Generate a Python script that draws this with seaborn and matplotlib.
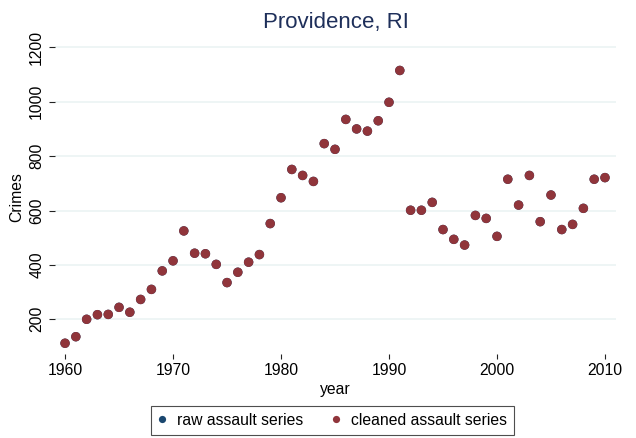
import pandas as pd
import seaborn as sns
import matplotlib.pyplot as plt

# Data
years = list(range(1960, 2011))
cleaned_assault = [112, 136, 200, 217, 218, 244, 226, 273, 310, 378,
                   415, 525, 443, 441, 402, 335, 373, 410, 438, 552,
                   647, 751, 729, 707, 846, 825, 935, 900, 892, 930,
                   998, 1115, 601, 601, 630, 530, 494, 473, 582, 571,
                   505, 715, 620, 729, 559, 657, 530, 549, 608, 715,
                   721]
# raw series sits underneath the cleaned one (same values where visible)
raw_assault = [112, 136, 200, 217, 218, 244, 226, 273, 310, 378,
               415, 525, 443, 441, 402, 335, 373, 410, 438, 552,
               647, 751, 729, 707, 846, 825, 935, 900, 892, 930,
               998, 1115, 601, 601, 630, 530, 494, 473, 582, 571,
               505, 715, 620, 729, 559, 657, 530, 549, 608, 715,
               721]
series_names = ['raw assault series', 'cleaned assault series']
x_ticks = [1960, 1970, 1980, 1990, 2000, 2010]
y_ticks = [200, 400, 600, 800, 1000, 1200]

df = pd.DataFrame({
    'year': years * 2,
    'Crimes': raw_assault + cleaned_assault,
    'series': [series_names[0]] * len(years) + [series_names[1]] * len(years),
})

sns.set_style('white')
plt.rcParams['font.family'] = ['Liberation Sans', 'DejaVu Sans']
plt.rcParams['text.color'] = 'black'
plt.rcParams['axes.labelcolor'] = 'black'
plt.rcParams['xtick.color'] = 'black'
plt.rcParams['ytick.color'] = 'black'

fig = plt.figure(figsize=(6.36, 4.38), dpi=100)
ax = fig.add_axes([55 / 636, 1 - 354 / 438, (616 - 55) / 636, (354 - 40) / 438])

sns.scatterplot(data=df, x='year', y='Crimes', hue='series',
                palette=['#1a476f', '#90353b'], s=46, linewidth=0,
                legend=False, ax=ax, zorder=3)

ax.set_xlim(1959.07, 2011.02)
ax.set_ylim(72.4, 1227)
ax.set_xticks(x_ticks)
ax.set_yticks(y_ticks)
ax.grid(axis='y', color='#eaf2f3', linewidth=1.1, zorder=0)
ax.grid(axis='x', visible=False)
for sp in ax.spines.values():
    sp.set_visible(False)

ax.tick_params(axis='x', direction='out', length=3.6, width=0.8, color='#222222',
               pad=3, labelsize=11.3, bottom=True)
ax.tick_params(axis='y', direction='out', length=4.3, width=0.8, color='#222222',
               pad=3.5, labelsize=11.3, left=True)
for t in ax.get_yticklabels():
    t.set_rotation(90)
    t.set_va('center')

ax.set_xlabel('year', fontsize=11.3, labelpad=2.5)
ax.set_ylabel('Crimes', fontsize=11.3, labelpad=3.5)
ax.set_title('Providence, RI', fontsize=16, color='#1e2f5a', pad=8.4)

handles = [plt.Line2D([], [], marker='o', linestyle='', markersize=5.2,
                      markerfacecolor=c, markeredgewidth=0)
           for c in ['#1a476f', '#90353b']]
leg = fig.legend(handles, series_names, loc='center', ncol=2,
                 bbox_to_anchor=(332.7 / 636, 1 - 420.3 / 438),
                 fontsize=11.3, frameon=True, fancybox=False,
                 handletextpad=0.76, columnspacing=1.9, handlelength=0.4,
                 borderpad=0.45, borderaxespad=0)
leg.get_frame().set_edgecolor('#222222')
leg.get_frame().set_linewidth(0.8)

fig.savefig('out.png', dpi=100)
